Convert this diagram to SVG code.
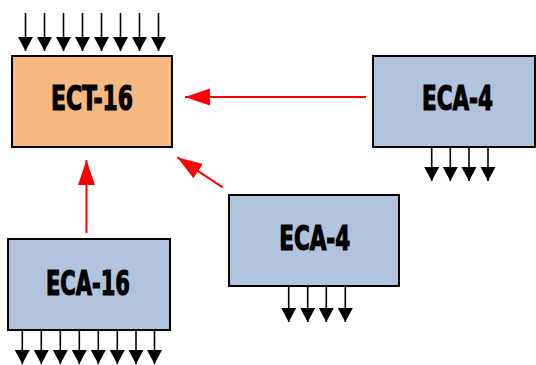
<svg xmlns="http://www.w3.org/2000/svg" width="536" height="365" viewBox="0 0 536 365">
<style>
.box{stroke:#000;stroke-width:2}
.ect{fill:#F8B880}
.eca{fill:#B0C4DE}
.lbl{font-family:"DejaVu Sans Condensed","DejaVu Sans",sans-serif;font-weight:bold;font-size:34px;fill:#000;stroke:#000;stroke-width:1.2;text-anchor:middle}
.io{stroke:#000;stroke-width:1.6;marker-end:url(#bh)}
.rl{stroke:#F00;stroke-width:2;fill:none;marker-end:url(#rh)}
</style>
<defs>
<marker id="bh" markerUnits="userSpaceOnUse" markerWidth="15" markerHeight="16" refX="14" refY="7.5" orient="auto" viewBox="0 0 15 16">
<path d="M0,0 L14,7.5 L0,15 z" fill="#000"/>
</marker>
<marker id="rh" markerUnits="userSpaceOnUse" markerWidth="26" markerHeight="18" refX="25" refY="8.5" orient="auto" viewBox="0 0 26 18">
<path d="M0,0 L25,8.5 L0,17 z" fill="#F00"/>
</marker>
</defs>
<g id="connectors">
<line class="rl" x1="366" y1="97" x2="185" y2="97"/>
<line class="rl" x1="222.7" y1="187.3" x2="177.3" y2="157.3"/>
<line class="rl" x1="86.5" y1="233" x2="86.5" y2="160"/>
</g>
<g id="ect16">
<g>
<line class="io" x1="25.5" y1="13" x2="25.5" y2="51"/>
<line class="io" x1="44.5" y1="13" x2="44.5" y2="51"/>
<line class="io" x1="63.5" y1="13" x2="63.5" y2="51"/>
<line class="io" x1="82.5" y1="13" x2="82.5" y2="51"/>
<line class="io" x1="101.5" y1="13" x2="101.5" y2="51"/>
<line class="io" x1="120.5" y1="13" x2="120.5" y2="51"/>
<line class="io" x1="139.5" y1="13" x2="139.5" y2="51"/>
<line class="io" x1="158.5" y1="13" x2="158.5" y2="51"/>
</g>
<rect class="box ect" x="12" y="56" width="160" height="91"/>
<text class="lbl" x="92" y="110" textLength="82" lengthAdjust="spacingAndGlyphs">ECT-16</text>
</g>
<g id="eca4-right">
<rect class="box eca" x="373" y="56" width="162" height="91"/>
<text class="lbl" x="457.5" y="110" textLength="71" lengthAdjust="spacingAndGlyphs">ECA-4</text>
<line class="io" x1="431.7" y1="147" x2="431.7" y2="181"/>
<line class="io" x1="450.3" y1="147" x2="450.3" y2="181"/>
<line class="io" x1="469" y1="147" x2="469" y2="181"/>
<line class="io" x1="488" y1="147" x2="488" y2="181"/>
</g>
<g id="eca4-mid">
<rect class="box eca" x="229" y="195" width="170" height="91"/>
<text class="lbl" x="314.7" y="250" textLength="71" lengthAdjust="spacingAndGlyphs">ECA-4</text>
<line class="io" x1="288.7" y1="286" x2="288.7" y2="322"/>
<line class="io" x1="307.7" y1="286" x2="307.7" y2="322"/>
<line class="io" x1="326.3" y1="286" x2="326.3" y2="322"/>
<line class="io" x1="345.3" y1="286" x2="345.3" y2="322"/>
</g>
<g id="eca16">
<rect class="box eca" x="8" y="239" width="162" height="91"/>
<text class="lbl" x="88" y="295" textLength="84" lengthAdjust="spacingAndGlyphs">ECA-16</text>
<line class="io" x1="22.3" y1="330" x2="22.3" y2="364"/>
<line class="io" x1="41.3" y1="330" x2="41.3" y2="364"/>
<line class="io" x1="60.3" y1="330" x2="60.3" y2="364"/>
<line class="io" x1="79.3" y1="330" x2="79.3" y2="364"/>
<line class="io" x1="98.3" y1="330" x2="98.3" y2="364"/>
<line class="io" x1="117.3" y1="330" x2="117.3" y2="364"/>
<line class="io" x1="136" y1="330" x2="136" y2="364"/>
<line class="io" x1="154.5" y1="330" x2="154.5" y2="364"/>
</g>
</svg>
